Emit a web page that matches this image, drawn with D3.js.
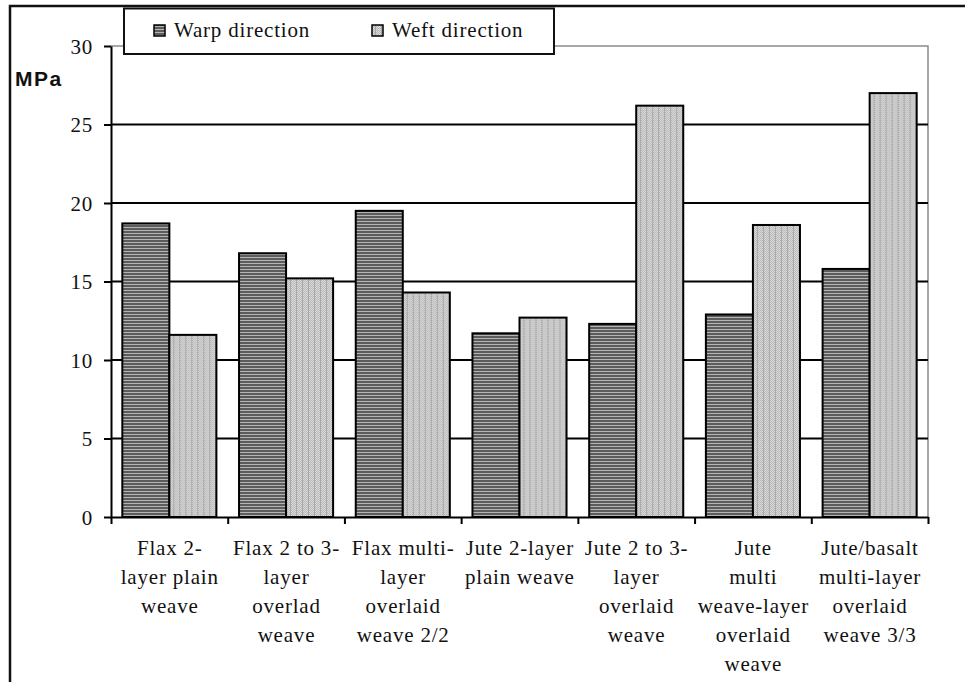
<!DOCTYPE html>
<html>
<head>
<meta charset="utf-8">
<script src="https://cdn.jsdelivr.net/npm/d3@7"></script>
<style>
  html, body { margin: 0; padding: 0; background: #fff; }
  svg { display: block; }
  .serif { font-family: "Liberation Serif", "Times New Roman", "DejaVu Serif", serif; }
</style>
</head>
<body>
<svg id="chart" width="965" height="682"></svg>
<script>
// Tensile strength by fabric structure
const categories = [
  ["Flax 2-", "layer plain", "weave"],
  ["Flax 2 to 3-", "layer", "overlad", "weave"],
  ["Flax multi-", "layer", "overlaid", "weave 2/2"],
  ["Jute 2-layer", "plain weave"],
  ["Jute 2 to 3-", "layer", "overlaid", "weave"],
  ["Jute", "multi", "weave-layer", "overlaid", "weave"],
  ["Jute/basalt", "multi-layer", "overlaid", "weave 3/3"]
];
const seriesNames = ["Warp direction", "Weft direction"];
const warpValues = [18.7, 16.8, 19.5, 11.7, 12.3, 12.9, 15.8];
const weftValues = [11.6, 15.2, 14.3, 12.7, 26.2, 18.6, 27.0];
const yTicks = [0, 5, 10, 15, 20, 25, 30];
const yUnit = "MPa";

const svg = d3.select("#chart");
const FONT_SIZE = "21px";
const SPACING = 0.8;

const plot = { left: 111, right: 928, top: 46, bottom: 517 };

// Fill patterns: horizontal stripes for warp, fine dotted texture for weft
const defs = svg.append("defs");
const pw = defs.append("pattern").attr("id", "warpFill")
  .attr("patternUnits", "userSpaceOnUse").attr("width", 4).attr("height", 3);
pw.append("rect").attr("width", 4).attr("height", 3).attr("fill", "#5c5c5c");
pw.append("rect").attr("y", 2).attr("width", 4).attr("height", 1).attr("fill", "#b4b4b4");

const pf = defs.append("pattern").attr("id", "weftFill")
  .attr("patternUnits", "userSpaceOnUse").attr("width", 6).attr("height", 2);
pf.append("rect").attr("width", 6).attr("height", 2).attr("fill", "#dcdcdc");
[[0,0],[2,0],[4,0],[1,1],[3,1],[5,1]].forEach(([x, y]) =>
  pf.append("rect").attr("x", x).attr("y", y).attr("width", 1).attr("height", 1).attr("fill", "#b8b8b8"));
pf.append("rect").attr("x", 3).attr("width", 1).attr("height", 2).attr("fill", "#a6a6a6");

const fills = ["url(#warpFill)", "url(#weftFill)"];

// Scales
const x0 = d3.scaleBand().domain(d3.range(categories.length))
  .range([plot.left, plot.right]).paddingInner(0.194).paddingOuter(0.097);
const x1 = d3.scaleBand().domain(d3.range(seriesNames.length))
  .range([0, x0.bandwidth()]).padding(0);
const y = d3.scaleLinear().domain([0, 30]).range([plot.bottom, plot.top]);

// Outer frame
svg.append("path")
  .attr("d", `M10,682 V6 H965`)
  .attr("fill", "none").attr("stroke", "#111").attr("stroke-width", 2.5);

// Plot area border (top and right)
svg.append("path")
  .attr("d", `M${plot.left},${plot.top} H${plot.right} V${plot.bottom}`)
  .attr("fill", "none").attr("stroke", "#8c8c8c").attr("stroke-width", 1.5);

// Gridlines
svg.append("g").selectAll("line")
  .data(yTicks.filter(t => t > 0 && t < 30))
  .join("line")
  .attr("x1", plot.left).attr("x2", plot.right)
  .attr("y1", d => y(d)).attr("y2", d => y(d))
  .attr("stroke", "#000").attr("stroke-width", 2);

// Bars
const data = categories.map((c, i) => [warpValues[i], weftValues[i]]);
svg.append("g").selectAll("g")
  .data(data)
  .join("g")
  .attr("transform", (d, i) => `translate(${x0(i)},0)`)
  .selectAll("rect")
  .data(d => d.map((v, s) => ({ v, s })))
  .join("rect")
  .attr("x", d => x1(d.s))
  .attr("y", d => y(d.v))
  .attr("width", x1.bandwidth())
  .attr("height", d => y(0) - y(d.v))
  .attr("fill", d => fills[d.s])
  .attr("stroke", "#000").attr("stroke-width", 2);

// Y axis
const yAxis = svg.append("g")
  .attr("transform", `translate(${plot.left},0)`)
  .call(d3.axisLeft(y).tickValues(yTicks).tickSize(7).tickSizeOuter(0).tickPadding(11));
yAxis.attr("font-family", null).attr("font-size", null);
yAxis.select(".domain").attr("stroke", "#000").attr("stroke-width", 2);
yAxis.selectAll(".tick line").attr("stroke", "#000").attr("stroke-width", 2);
yAxis.selectAll(".tick text")
  .attr("class", "serif").style("font-size", FONT_SIZE).attr("fill", "#111")
  .attr("letter-spacing", SPACING).attr("dy", "0.34em");

// X axis with ticks at category boundaries
const boundaries = d3.range(categories.length + 1);
const xb = d3.scaleLinear().domain([0, categories.length]).range([plot.left, plot.right]);
const xAxis = svg.append("g")
  .attr("transform", `translate(0,${plot.bottom})`)
  .call(d3.axisBottom(xb).tickValues(boundaries).tickSize(7).tickSizeOuter(0).tickFormat(""));
xAxis.select(".domain").attr("stroke", "#000").attr("stroke-width", 2);
xAxis.selectAll(".tick line").attr("stroke", "#000").attr("stroke-width", 2);

// Category labels
const labels = svg.append("g")
  .attr("class", "serif").style("font-size", FONT_SIZE).attr("fill", "#111")
  .attr("letter-spacing", SPACING).attr("text-anchor", "middle");
categories.forEach((lines, i) => {
  const cx = x0(i) + x0.bandwidth() / 2 + SPACING / 2;
  const t = labels.append("text").attr("x", cx).attr("y", 555);
  lines.forEach((ln, k) => {
    t.append("tspan").attr("x", cx).attr("y", 555 + k * 29).text(ln);
  });
});

// Unit label
svg.append("text")
  .attr("x", 15).attr("y", 86)
  .style("font-family", "'Liberation Sans', Arial, sans-serif")
  .attr("font-weight", "bold").style("font-size", "21px").attr("letter-spacing", 1.5)
  .attr("fill", "#111")
  .text(yUnit);

// Legend
const legend = svg.append("g");
legend.append("rect")
  .attr("x", 124).attr("y", 8.5).attr("width", 430).attr("height", 45.5)
  .attr("fill", "#fff").attr("stroke", "#111").attr("stroke-width", 2);
const legendX = [154, 372];
seriesNames.forEach((name, s) => {
  legend.append("rect")
    .attr("x", legendX[s]).attr("y", 25).attr("width", 11).attr("height", 11)
    .attr("fill", fills[s]).attr("stroke", "#000").attr("stroke-width", 1.5);
  legend.append("text")
    .attr("x", legendX[s] + 20).attr("y", 37)
    .attr("class", "serif").style("font-size", FONT_SIZE).attr("letter-spacing", SPACING)
    .attr("fill", "#111")
    .text(name);
});
</script>
</body>
</html>
